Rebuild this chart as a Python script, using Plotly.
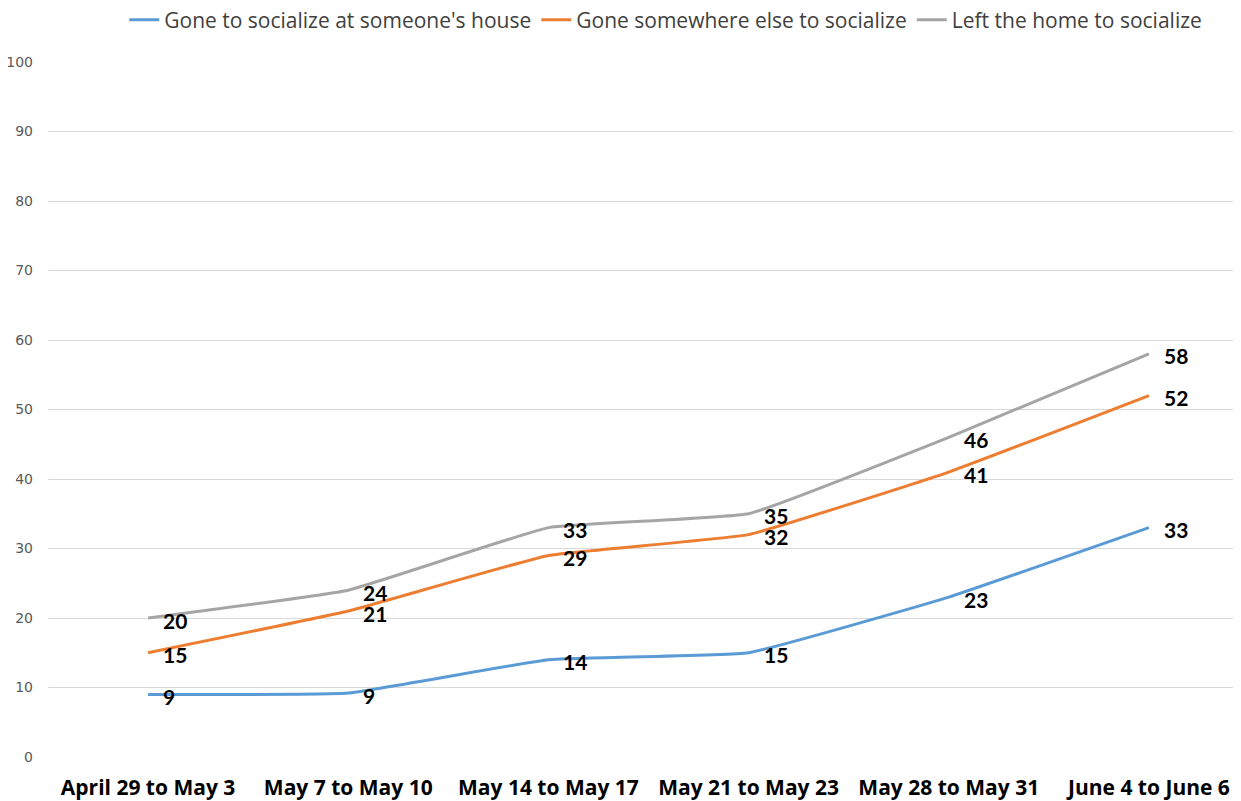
import plotly.graph_objects as go

# periods and shares (%)
periods = ["April 29 to May 3", "May 7 to May 10", "May 14 to May 17",
           "May 21 to May 23", "May 28 to May 31", "June 4 to June 6"]
someones_house = [9, 9.2, 14, 15, 23, 33]
somewhere_else = [15, 21, 29, 32, 41, 52]
left_home = [20, 24, 33, 35, 46, 58]

series = [
    ("Gone to socialize at someone's house", someones_house, "#5B9BD5"),
    ("Gone somewhere else to socialize", somewhere_else, "#ED7D31"),
    ("Left the home to socialize", left_home, "#A5A5A5"),
]

fig = go.Figure()
for name, vals, color in series:
    fig.add_trace(go.Scatter(
        x=periods, y=vals, name=name, mode="lines",
        line=dict(color=color, width=3, shape="spline", smoothing=0.3),
    ))
    # data labels to the right of each point
    for p, v in zip(periods, vals):
        fig.add_annotation(x=p, y=v, text=str(round(v)), showarrow=False,
                           xanchor="left", yanchor="middle", xshift=13, yshift=-2,
                           font=dict(family="Lato", size=21, color="#000000", weight="bold"))

fig.update_layout(
    width=1241, height=801,
    plot_bgcolor="white", paper_bgcolor="white",
    margin=dict(l=40, r=0, t=54, b=52),
    showlegend=True,
    legend=dict(orientation="h", xref="container", x=0.530, xanchor="center",
                yref="container", y=0.985, yanchor="middle",
                font=dict(family="Open Sans", size=21, color="#404040"),
                itemwidth=30, traceorder="normal"),
    xaxis=dict(range=[-0.5, 5.5], showgrid=False, showline=False, zeroline=False,
               ticks="", automargin=False, ticklabelstandoff=16,
               tickfont=dict(family="Open Sans", size=21, color="#000000", weight="bold")),
    yaxis=dict(range=[0, 100], dtick=10, showgrid=True, gridcolor="#D9D9D9", gridwidth=1,
               zeroline=False, showline=False, ticks="", ticklabelstandoff=14,
               automargin=False,
               tickfont=dict(family="DejaVu Sans", size=14, color="#595959")),
)

fig.write_html("out.html")
